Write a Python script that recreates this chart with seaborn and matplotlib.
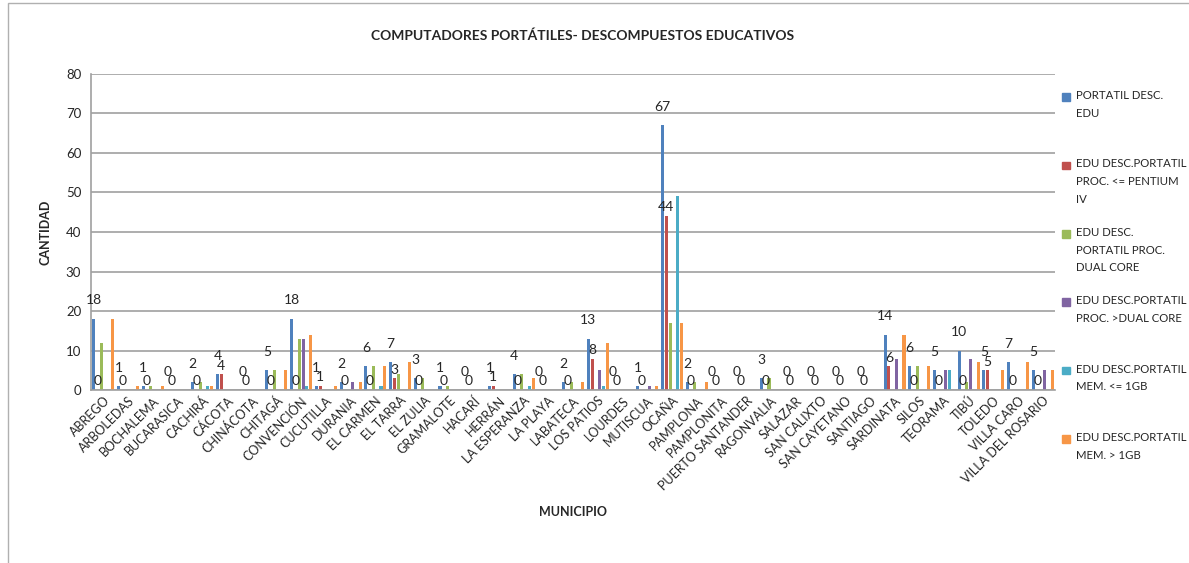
import pandas as pd
import matplotlib.pyplot as plt
import seaborn as sns
from matplotlib.patches import Rectangle

municipios = ["ABREGO", "ARBOLEDAS", "BOCHALEMA", "BUCARASICA", "CACHIRÁ", "CÁCOTA",
              "CHINÁCOTA", "CHITAGÁ", "CONVENCIÓN", "CUCUTILLA", "DURANIA", "EL CARMEN",
              "EL TARRA", "EL ZULIA", "GRAMALOTE", "HACARÍ", "HERRÁN", "LA ESPERANZA",
              "LA PLAYA", "LABATECA", "LOS PATIOS", "LOURDES", "MUTISCUA", "OCAÑA",
              "PAMPLONA", "PAMPLONITA", "PUERTO SANTANDER", "RAGONVALIA", "SALAZAR",
              "SAN CALIXTO", "SAN CAYETANO", "SANTIAGO", "SARDINATA", "SILOS", "TEORAMA",
              "TIBÚ", "TOLEDO", "VILLA CARO", "VILLA DEL ROSARIO"]

series_names = ["PORTATIL DESC.\nEDU",
                "EDU DESC.PORTATIL\nPROC. <= PENTIUM\nIV",
                "EDU DESC.\nPORTATIL PROC.\nDUAL CORE",
                "EDU DESC.PORTATIL\nPROC. >DUAL CORE",
                "EDU DESC.PORTATIL\nMEM. <= 1GB",
                "EDU DESC.PORTATIL\nMEM. > 1GB"]

portatil_edu = [18, 1, 1, 0, 2, 4, 0, 5, 18, 1, 2, 6, 7, 3, 1, 0, 1, 4, 0, 2,
                13, 0, 1, 67, 2, 0, 0, 3, 0, 0, 0, 0, 14, 6, 5, 10, 5, 7, 5]
proc_pentium = [0, 0, 0, 0, 0, 4, 0, 0, 0, 1, 0, 0, 3, 0, 0, 0, 1, 0, 0, 0,
                8, 0, 0, 44, 0, 0, 0, 0, 0, 0, 0, 0, 6, 0, 0, 0, 5, 0, 0]
proc_dual = [12, 0, 1, 0, 2, 0, 0, 5, 13, 0, 0, 6, 4, 3, 1, 0, 0, 4, 0, 2,
             0, 0, 0, 17, 2, 0, 0, 3, 0, 0, 0, 0, 0, 6, 0, 2, 0, 0, 0]
proc_mayor = [0, 0, 0, 0, 0, 0, 0, 0, 13, 0, 2, 0, 0, 0, 0, 0, 0, 0, 0, 0,
              5, 0, 1, 0, 0, 0, 0, 0, 0, 0, 0, 0, 8, 0, 5, 8, 0, 0, 5]
mem_menor = [0, 0, 0, 0, 1, 0, 0, 0, 1, 0, 0, 1, 0, 0, 0, 0, 0, 1, 0, 0,
             1, 0, 0, 49, 0, 0, 0, 0, 0, 0, 0, 0, 0, 0, 5, 0, 0, 0, 0]
mem_mayor = [18, 1, 1, 0, 1, 0, 0, 5, 14, 1, 2, 6, 7, 0, 0, 0, 0, 3, 0, 2,
             12, 0, 1, 17, 2, 0, 0, 0, 0, 0, 0, 0, 14, 6, 0, 7, 5, 7, 5]

colors = ["#4F81BD", "#C0504D", "#9BBB59", "#8064A2", "#4BACC6", "#F79646"]

rows = []
for name, vals in zip(series_names, [portatil_edu, proc_pentium, proc_dual,
                                     proc_mayor, mem_menor, mem_mayor]):
    for m, v in zip(municipios, vals):
        rows.append({"MUNICIPIO": m, "serie": name, "CANTIDAD": v})
df = pd.DataFrame(rows)

sns.set_theme(style="white")
plt.rcParams['font.family'] = ['Lato', 'DejaVu Sans']

fig = plt.figure(figsize=(11.89, 5.63), dpi=100)
ax = fig.add_axes([0.0765, 0.307, 0.811, 0.562])

sns.barplot(data=df, x="MUNICIPIO", y="CANTIDAD", hue="serie", palette=colors,
            order=municipios, hue_order=series_names, width=0.92, gap=0.2,
            saturation=1, edgecolor="none", linewidth=0,
            legend=False, ax=ax)

ax.set_ylim(0, 80)
ax.set_yticks(range(0, 81, 10))
ax.set_xlim(-0.5, len(municipios) - 0.5)
ax.yaxis.grid(True, color="#A0A0A0", linewidth=1.2)
ax.set_axisbelow(True)
for s in ["top", "right"]:
    ax.spines[s].set_visible(False)
for s in ["left", "bottom"]:
    ax.spines[s].set_color("#A0A0A0")
    ax.spines[s].set_linewidth(1.2)

ax.tick_params(axis="y", labelsize=9.5, length=0, pad=7)
ax.tick_params(axis="x", labelsize=9, length=0, pad=3)
plt.setp(ax.get_xticklabels(), rotation=45, ha="right", rotation_mode="anchor")

ax.set_xlabel("MUNICIPIO", fontsize=9, fontweight="bold")
ax.set_ylabel("CANTIDAD", fontsize=9, fontweight="bold", labelpad=10)
ax.xaxis.set_label_coords(0.5, -0.365)

# data labels, roughly as placed in the original
ax.bar_label(ax.containers[0], fontsize=10, padding=9)
ax.bar_label(ax.containers[1], fontsize=10, padding=2)

fig.text(0.49, 0.936, "COMPUTADORES PORTÁTILES- DESCOMPUESTOS EDUCATIVOS",
         fontsize=10, fontweight="bold", ha="center", va="center")

# legend at the right, marker aligned with first line of text
leg_top = 0.828
for i, (name, c) in enumerate(zip(series_names, colors)):
    y = leg_top - i * 0.1215
    fig.patches.append(Rectangle((0.893, y - 0.007), 0.0065, 0.0135, color=c,
                                 transform=fig.transFigure, figure=fig))
    fig.text(0.905, y + 0.012, name, fontsize=8.2, ha="left", va="top",
             linespacing=1.75)

fig.patches.append(Rectangle((0.007, -0.01), 1.0, 1.005, fill=False,
                             edgecolor="#B0B0B0", linewidth=1,
                             transform=fig.transFigure, figure=fig))

fig.savefig("out.png", dpi=100, facecolor="white")
